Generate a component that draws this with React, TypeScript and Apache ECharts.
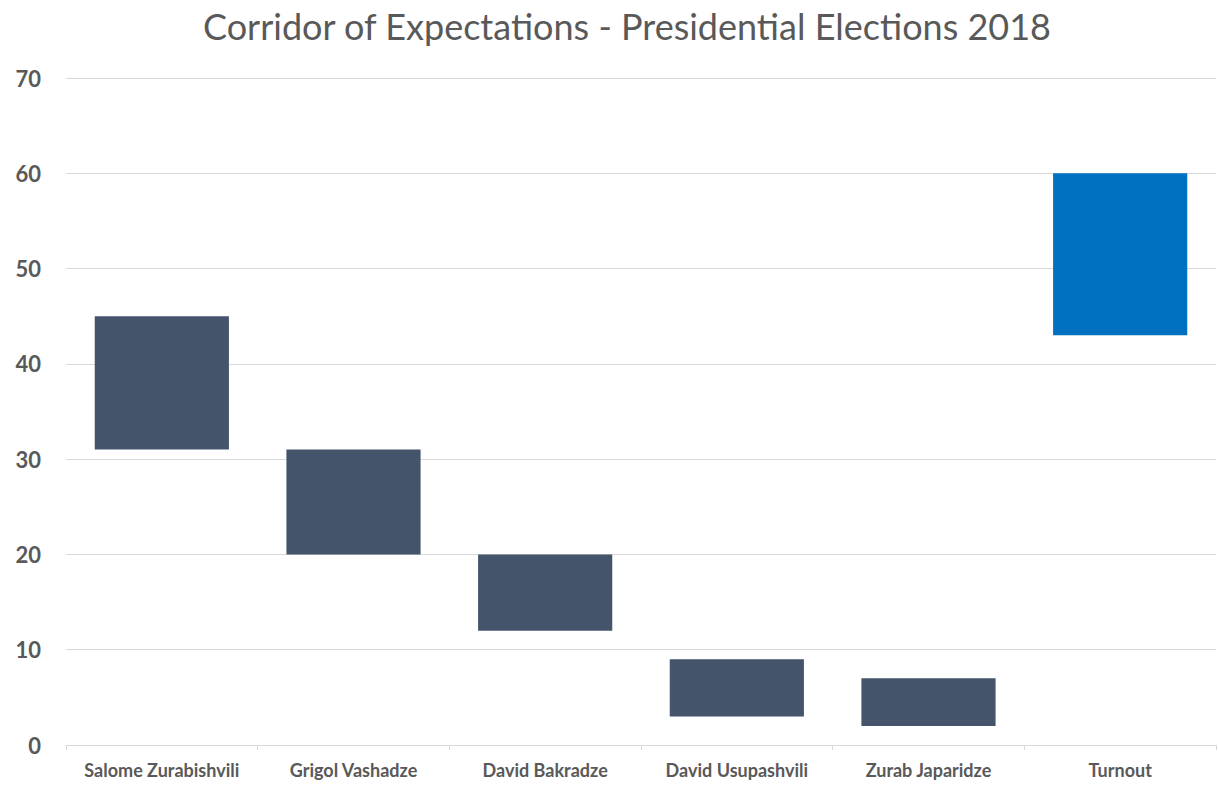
import React, { useEffect, useRef } from "react";
import * as echarts from "echarts";

const categories = [
  "Salome Zurabishvili",
  "Grigol Vashadze",
  "David Bakradze",
  "David Usupashvili",
  "Zurab Japaridze",
  "Turnout",
];
const lowValues = [31, 20, 12, 3, 2, 43];
const highValues = [45, 31, 20, 9, 7, 60];
const barColors = ["#44546a", "#44546a", "#44546a", "#44546a", "#44546a", "#0070c0"];

export default function App() {
  const ref = useRef<HTMLDivElement>(null);
  useEffect(() => {
    document.body.style.margin = "0";
    const chart = echarts.init(ref.current!, null, { renderer: "svg" });
    const font = "Lato, 'Open Sans', sans-serif";
    chart.setOption({
      animation: false,
      backgroundColor: "#ffffff",
      title: {
        text: "Corridor of Expectations - Presidential Elections 2018",
        left: 198,
        top: 3,
        textStyle: { fontFamily: font, fontSize: 36, fontWeight: "normal", color: "#595959" },
      },
      grid: { left: 66, right: 3, top: 78, bottom: 49 },
      xAxis: {
        type: "category",
        data: categories,
        axisLine: { lineStyle: { color: "#d9d9d9", width: 1 } },
        axisTick: { show: true, length: 5, lineStyle: { color: "#d9d9d9" } },
        axisLabel: {
          fontFamily: font,
          fontSize: 18,
          fontWeight: "bold",
          color: "#595959",
          margin: 16,
          interval: 0,
        },
      },
      yAxis: {
        type: "value",
        min: 0,
        max: 70,
        interval: 10,
        axisLine: { show: false },
        axisTick: { show: false },
        splitLine: { lineStyle: { color: "#d9d9d9", width: 1 } },
        axisLabel: {
          fontFamily: font,
          fontSize: 22,
          fontWeight: "bold",
          color: "#595959",
          margin: 25,
        },
      },
      series: [
        {
          type: "bar",
          stack: "corridor",
          data: lowValues,
          itemStyle: { color: "transparent" },
          barCategoryGap: "30%",
          silent: true,
        },
        {
          type: "bar",
          stack: "corridor",
          data: highValues.map((h, i) => ({
            value: h - lowValues[i],
            itemStyle: { color: barColors[i] },
          })),
          barCategoryGap: "30%",
        },
      ],
    });
    return () => chart.dispose();
  }, []);
  return <div ref={ref} style={{ width: 1219, height: 794 }} />;
}
